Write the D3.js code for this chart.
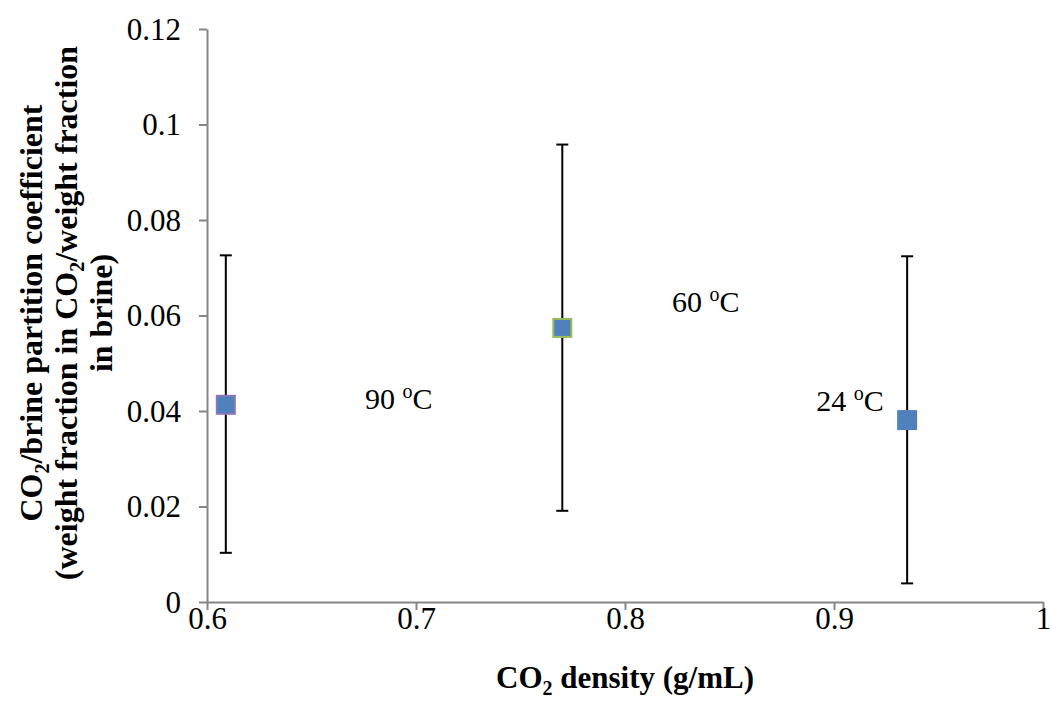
<!DOCTYPE html>
<html>
<head>
    <title></title>
    <script src="https://d3js.org/d3.v7.min.js"></script>
    <style>
        body { margin: 0; background: #fff; }
        text { font-family: "Liberation Serif", "Times New Roman", serif; fill: #000; }
    </style>
</head>
<body>

    <svg id="chart" width="1050" height="705"></svg>

    <script>

    // data
    var density = [0.609, 0.770, 0.935];        // g/mL
    var partCoef = [0.0413, 0.0574, 0.0381];
    var errLow = [0.0103, 0.0191, 0.0039];
    var errHigh = [0.0726, 0.0958, 0.0724];
    var borderCol = ["#8E74B4", "#9BBB59", "#4F81BD"];

    var tempLabels = ["90", "60", "24"];
    var labelX = [0.6756, 0.8225, 0.8915];
    var labelY = [0.0405, 0.0607, 0.0400];

    var xTicks = [0.6, 0.7, 0.8, 0.9, 1];
    var yTicks = [0, 0.02, 0.04, 0.06, 0.08, 0.1, 0.12];

    var xSc = d3.scaleLinear().domain([0.6, 1]).range([207, 1043]);
    var ySc = d3.scaleLinear().domain([0, 0.12]).range([602, 29]);

    let svg = d3.select("#chart");

    // axes
    var xAx = d3.axisBottom(xSc).tickValues(xTicks).tickSize(8).tickSizeOuter(0)
        .tickFormat(d => d3.format("")(+d.toFixed(2)));
    var yAx = d3.axisLeft(ySc).tickValues(yTicks).tickSize(8).tickSizeOuter(0)
        .tickFormat(d => d3.format("")(+d.toFixed(2)));

    var gx = svg.append("g").attr("transform", "translate(0,602)").call(xAx);
    var gy = svg.append("g").attr("transform", "translate(207,0)").call(yAx);

    [gx, gy].forEach(g => {
        g.select(".domain").attr("stroke", "#868686").attr("stroke-width", 2);
        g.selectAll(".tick line").attr("stroke", "#868686").attr("stroke-width", 2);
        g.selectAll(".tick text").attr("font-family", "Liberation Serif")
            .attr("font-size", 31).attr("fill", "#000");
    });
    gx.selectAll(".tick text").attr("dy", "0").attr("y", 27);
    gy.selectAll(".tick text").attr("x", -26).attr("dy", "0.33em");

    // error bars
    var pts = density.map((d, i) => ({ x: d, y: partCoef[i], lo: errLow[i], hi: errHigh[i], c: borderCol[i] }));
    var eb = svg.append("g").selectAll("g").data(pts).enter().append("g")
        .attr("stroke", "#000").attr("stroke-width", 2);
    eb.append("line").attr("x1", d => xSc(d.x)).attr("x2", d => xSc(d.x))
        .attr("y1", d => ySc(d.lo)).attr("y2", d => ySc(d.hi));
    eb.append("line").attr("x1", d => xSc(d.x) - 6).attr("x2", d => xSc(d.x) + 6)
        .attr("y1", d => ySc(d.hi)).attr("y2", d => ySc(d.hi));
    eb.append("line").attr("x1", d => xSc(d.x) - 6).attr("x2", d => xSc(d.x) + 6)
        .attr("y1", d => ySc(d.lo)).attr("y2", d => ySc(d.lo));

    // square markers
    svg.append("g").selectAll("rect").data(pts).enter().append("rect")
        .attr("x", d => xSc(d.x) - 9).attr("y", d => ySc(d.y) - 9)
        .attr("width", 18).attr("height", 18)
        .attr("fill", "#4F81BD").attr("stroke", d => d.c).attr("stroke-width", 2);

    // temperature labels
    var lab = svg.append("g").selectAll("text").data(tempLabels).enter().append("text")
        .attr("x", (d, i) => xSc(labelX[i])).attr("y", (d, i) => ySc(labelY[i]))
        .attr("font-size", 30);
    lab.append("tspan").text(d => d + " ");
    lab.append("tspan").attr("font-size", 20).attr("dy", -11).text("o");
    lab.append("tspan").attr("dy", 11).text("C");

    // x axis title
    var xt = svg.append("text").attr("x", 625).attr("y", 688)
        .attr("text-anchor", "middle").attr("font-size", 31).attr("font-weight", "bold");
    xt.append("tspan").text("CO");
    xt.append("tspan").attr("font-size", 20).attr("dy", 7).text("2");
    xt.append("tspan").attr("dy", -7).text(" density (g/mL)");

    // y axis title, three lines
    var yt = svg.append("g").attr("transform", "translate(0,313) rotate(-90)");
    var l1 = yt.append("text").attr("y", 42).attr("text-anchor", "middle")
        .attr("font-size", 32).attr("font-weight", "bold");
    l1.append("tspan").text("CO");
    l1.append("tspan").attr("font-size", 20).attr("dy", 7).text("2");
    l1.append("tspan").attr("dy", -7).text("/brine partition coefficient");
    var l2 = yt.append("text").attr("y", 77).attr("text-anchor", "middle")
        .attr("font-size", 32).attr("font-weight", "bold");
    l2.append("tspan").text("(weight fraction in CO");
    l2.append("tspan").attr("font-size", 20).attr("dy", 7).text("2");
    l2.append("tspan").attr("dy", -7).text("/weight fraction");
    yt.append("text").attr("y", 112).attr("text-anchor", "middle")
        .attr("font-size", 32).attr("font-weight", "bold").text("in brine)");

    </script>

</body></html>
